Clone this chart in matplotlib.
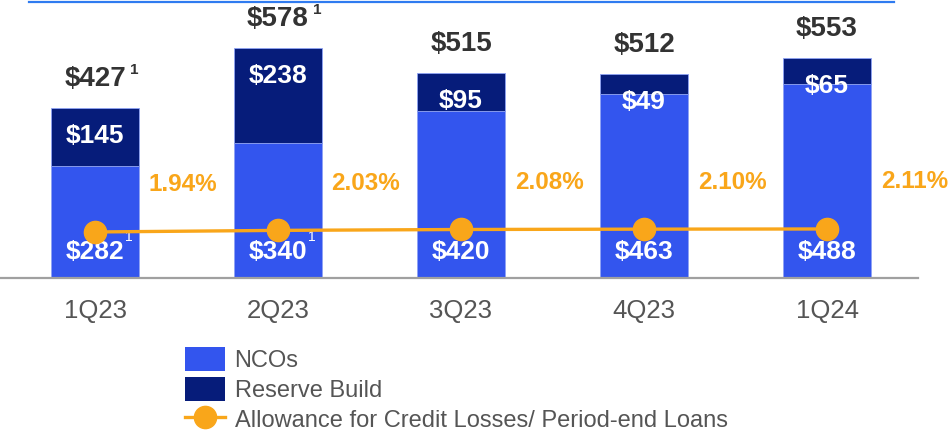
import matplotlib.pyplot as plt
from matplotlib.lines import Line2D
from matplotlib.patches import Patch

# ---------------------------------------------------------------------------
# Data
# ---------------------------------------------------------------------------
quarters = ["1Q23", "2Q23", "3Q23", "4Q23", "1Q24"]
ncos = [282, 340, 420, 463, 488]
reserve_build = [145, 238, 95, 49, 65]
totals = [427, 578, 515, 512, 553]
allowance_pct = [1.94, 2.03, 2.08, 2.10, 2.11]
total_note = [True, True, False, False, False]
nco_note = [True, True, False, False, False]

NCO_BLUE = "#3355EE"
NAVY = "#061C7A"
ORANGE = "#F9A61A"
DARK = "#333333"
GRAY = "#555555"

plt.rcParams["font.family"] = ["Liberation Sans", "DejaVu Sans"]

fig = plt.figure(figsize=(9.49, 4.32), dpi=100)
W, H = 949, 432
base_px = 278
ax = fig.add_axes([0, (H - base_px) / H, 918 / W, base_px / H])

x = list(range(len(quarters)))
ax.bar(x, ncos, width=0.48, color=NCO_BLUE, edgecolor="#8FA3F5", linewidth=0.6, zorder=2)
ax.bar(x, reserve_build, bottom=ncos, width=0.48, color=NAVY,
       edgecolor="#8FA3F5", linewidth=0.6, zorder=2)

ax.set_xlim(-95 / 183, (918 - 95) / 183)
ax.set_ylim(0, base_px / 0.398)

for side in ["top", "right", "left"]:
    ax.spines[side].set_visible(False)
ax.spines["bottom"].set_color("#A0A0A0")
ax.spines["bottom"].set_linewidth(1.6)
ax.set_yticks([])
ax.set_xticks(x)
ax.set_xticklabels(quarters, fontsize=18.5, color=GRAY)
ax.tick_params(axis="x", length=0, pad=15)

for i in x:
    top = ncos[i] + reserve_build[i]
    ax.annotate(f"${totals[i]}", (i, top), xytext=(0, 29), textcoords="offset pixels",
                ha="center", va="center", fontsize=20, fontweight="bold", color=DARK)
    if total_note[i]:
        ax.annotate("1", (i, top), xytext=(35, 38), textcoords="offset pixels",
                    ha="left", va="center", fontsize=11, fontweight="bold", color=DARK)
    ax.annotate(f"${reserve_build[i]}", (i, top), xytext=(0, -28), textcoords="offset pixels",
                ha="center", va="center", fontsize=19, fontweight="bold", color="white", zorder=5)
    ax.annotate(f"${ncos[i]}", (i, 0), xytext=(0, 26), textcoords="offset pixels",
                ha="center", va="center", fontsize=19, fontweight="bold", color="white", zorder=5)
    if nco_note[i]:
        ax.annotate("1", (i, 0), xytext=(30, 41), textcoords="offset pixels",
                    ha="left", va="center", fontsize=10, color="white", zorder=5)

# allowance line on its own scale
ax2 = ax.twinx()
ax2.set_ylim(-0.67, -0.67 + base_px * 0.0567)
ax2.axis("off")
ax2.plot(x, allowance_pct, color=ORANGE, linewidth=2.4, marker="o", markersize=16, zorder=3)
for i in x:
    ax2.annotate(f"{allowance_pct[i]:.2f}%", (i, allowance_pct[i]), xytext=(88, 47),
                 textcoords="offset pixels", ha="center", va="center",
                 fontsize=17.5, fontweight="bold", color=ORANGE)

# top rule
fig.add_artist(Line2D([29 / W, 894 / W], [1 - 2 / H, 1 - 2 / H], color="#2F7BF0", linewidth=1.6))

handles = [
    Patch(facecolor=NCO_BLUE, edgecolor="none"),
    Patch(facecolor=NAVY, edgecolor="none"),
    Line2D([0], [0], color=ORANGE, linewidth=2.4, marker="o", markersize=16),
]
labels = ["NCOs", "Reserve Build", "Allowance for Credit Losses/ Period-end Loans"]
fig.legend(handles, labels, loc="upper left", bbox_to_anchor=(185 / W, 1 - 347 / H),
           frameon=False, fontsize=17, labelcolor=GRAY, handlelength=1.7, handleheight=1.2,
           handletextpad=0.4, labelspacing=0.2, borderpad=0, borderaxespad=0)

fig.savefig("out.png", dpi=100)
